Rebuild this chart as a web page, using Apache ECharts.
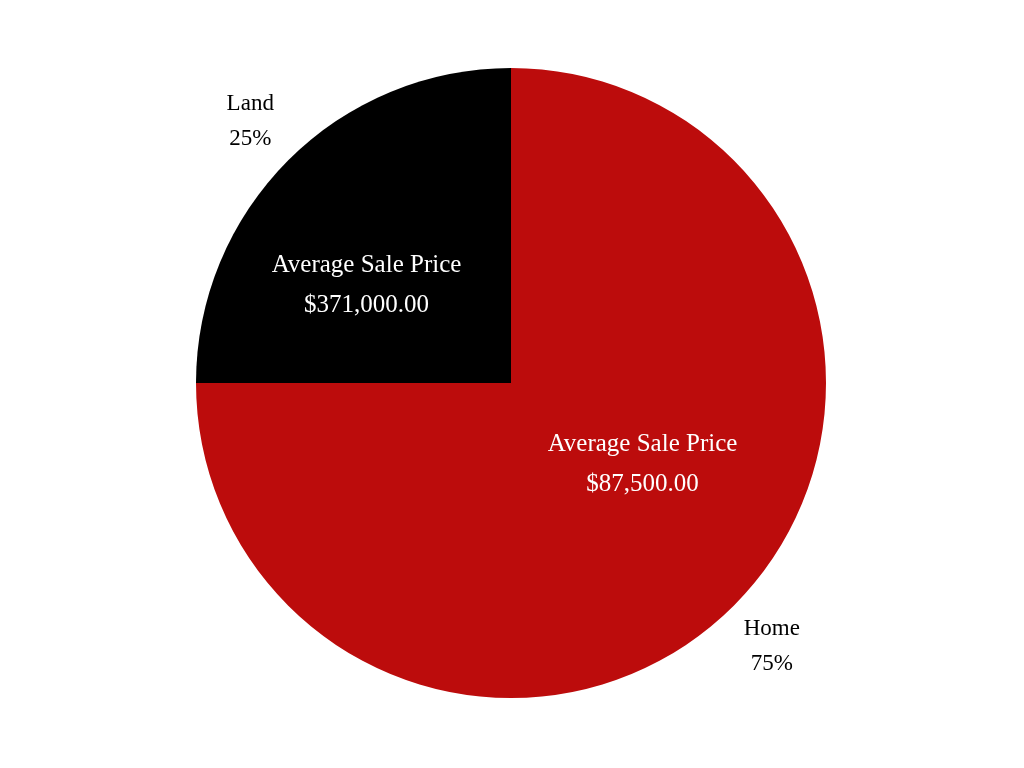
<!DOCTYPE html>
<html>
<head>
<meta charset="utf-8">
<script src="https://cdn.jsdelivr.net/npm/echarts@6/dist/echarts.min.js"></script>
<style>html,body{margin:0;padding:0;background:#fff}#chart{width:1024px;height:768px}</style>
</head>
<body>
<div id="chart"></div>
<script>
const categories = ["Home", "Land"];
const shares = [75, 25];
const avgPrices = ["$87,500.00", "$371,000.00"];
const colors = ["#bc0c0c", "#000000"];

const FONT = "'Liberation Serif', serif";
const insideOffsets = [[18, -32], [-31, 16]];
const outsideOffsets = [[-3, 0], [3, 2]];

const chart = echarts.init(document.getElementById('chart'));
chart.setOption({
  animation: false,
  series: [
    {
      type: 'pie',
      center: [511, 383],
      radius: [0, 315],
      startAngle: 90,
      clockwise: true,
      silent: true,
      data: categories.map((c, i) => ({ name: c, value: shares[i], itemStyle: { color: colors[i] } })),
      label: {
        position: 'inside',
        formatter: p => 'Average Sale Price\n' + avgPrices[p.dataIndex],
        color: '#fff',
        fontFamily: FONT,
        fontSize: 25,
        lineHeight: 40,
        align: 'center'
      },
      labelLayout: p => ({ dx: insideOffsets[p.dataIndex][0], dy: insideOffsets[p.dataIndex][1] }),
      labelLine: { show: false }
    },
    {
      type: 'pie',
      center: [511, 383],
      radius: [366, 374],
      startAngle: 90,
      clockwise: true,
      silent: true,
      data: categories.map((c, i) => ({ name: c, value: shares[i], itemStyle: { color: 'rgba(0,0,0,0)' } })),
      label: {
        position: 'inside',
        formatter: p => p.name + '\n' + p.value + '%',
        color: '#000',
        fontFamily: FONT,
        fontSize: 23,
        lineHeight: 35,
        align: 'center'
      },
      labelLayout: p => ({ dx: outsideOffsets[p.dataIndex][0], dy: outsideOffsets[p.dataIndex][1] }),
      labelLine: { show: false }
    }
  ]
});
</script>
</body>
</html>
